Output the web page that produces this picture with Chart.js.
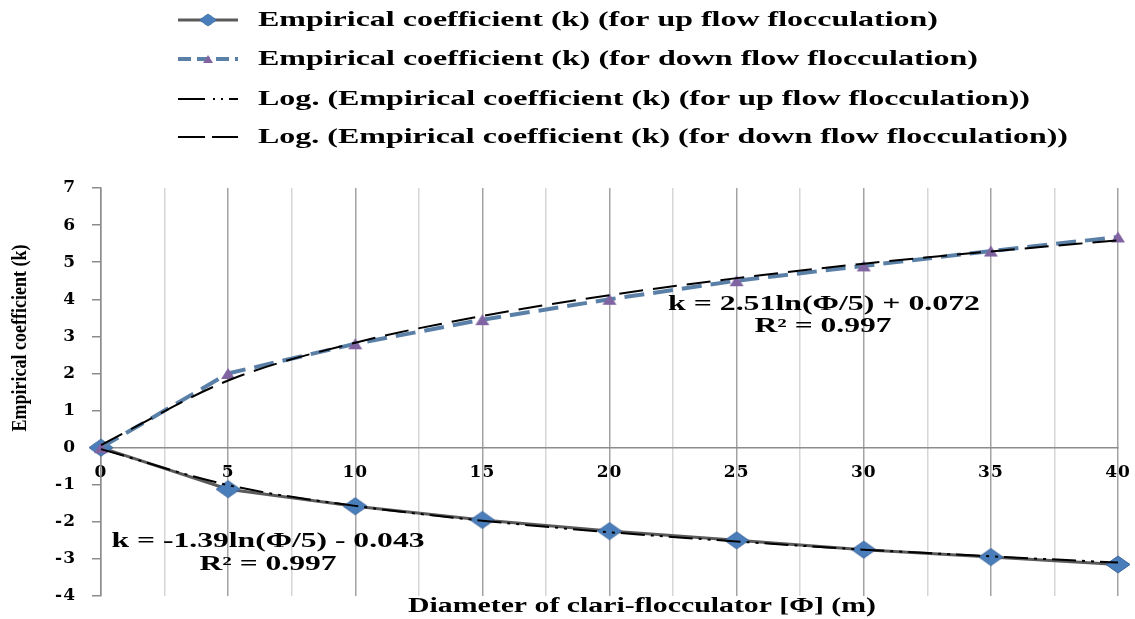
<!DOCTYPE html>
<html>
<head>
<meta charset="utf-8">
<script src="https://cdn.jsdelivr.net/npm/chart.js@4/dist/chart.umd.min.js"></script>
<style>
  html, body { margin: 0; padding: 0; background: #fff; }
  #wrap { width: 1135px; height: 619px; position: relative; }
</style>
</head>
<body>
<div id="wrap"><canvas id="kChart"></canvas></div>
<script>
// diameter of clari-flocculator (m)
const diameters = [0, 5, 10, 15, 20, 25, 30, 35, 40];
// empirical coefficient k
const upFlow = [0, -1.12, -1.58, -1.95, -2.25, -2.50, -2.75, -2.95, -3.15];
const downFlow = [0, 2.0, 2.8, 3.45, 4.0, 4.5, 4.9, 5.3, 5.68];
// log trendlines as drawn in the figure, read at the same diameters
const upTrend = [-0.04, -1.01, -1.57, -1.97, -2.28, -2.53, -2.75, -2.93, -3.10];
const downTrend = [0.07, 1.81, 2.83, 3.55, 4.11, 4.57, 4.96, 5.29, 5.59];

const seriesLabels = [
  "Empirical coefficient (k) (for up flow flocculation)",
  "Empirical coefficient (k) (for down flow flocculation)",
  "Log. (Empirical coefficient (k) (for up flow flocculation))",
  "Log. (Empirical coefficient (k) (for down flow flocculation))"
];
const upEquation = ["k = -1.39ln(\u03A6/5) - 0.043", "R\u00B2 = 0.997"];
const downEquation = ["k = 2.51ln(\u03A6/5) + 0.072", "R\u00B2 = 0.997"];
const xTitle = "Diameter of clari-flocculator [\u03A6] (m)";
const yTitle = "Empirical coefficient (k)";

function pts(ys) {
  return diameters.map((d, i) => ({ x: d, y: ys[i] }));
}

function makeDiamond(w, h) {
  const c = document.createElement("canvas");
  c.width = w + 2; c.height = h + 2;
  const g = c.getContext("2d");
  g.beginPath();
  g.moveTo(c.width / 2, 1);
  g.lineTo(w + 1, c.height / 2);
  g.lineTo(c.width / 2, h + 1);
  g.lineTo(1, c.height / 2);
  g.closePath();
  g.fillStyle = "#4a7ebb";
  g.fill();
  g.strokeStyle = "#3a659b";
  g.lineWidth = 1;
  g.stroke();
  return c;
}

function makeTriangle(w, h) {
  const c = document.createElement("canvas");
  c.width = w + 2; c.height = h + 2;
  const g = c.getContext("2d");
  g.beginPath();
  g.moveTo(c.width / 2, 1);
  g.lineTo(w + 1, h + 1);
  g.lineTo(1, h + 1);
  g.closePath();
  g.fillStyle = "#8064a2";
  g.fill();
  return c;
}

const diamondMark = makeDiamond(24, 17);
const triangleMark = makeTriangle(14, 11);

// text squeezed/stretched to the width it has in the figure
function fitText(ctx, text, x, y, width, align) {
  const w = ctx.measureText(text).width;
  ctx.save();
  ctx.translate(x, y);
  ctx.scale(width / w, 1);
  ctx.textAlign = align;
  ctx.textBaseline = "middle";
  ctx.fillText(text, 0, 0);
  ctx.restore();
}

const extras = {
  id: "extras",
  beforeDraw(chart) {
    chart.ctx.letterSpacing = "1px";
  },
  afterDraw(chart) {
    const ctx = chart.ctx;
    ctx.letterSpacing = "0px";
    ctx.fillStyle = "#000";

    // legend
    const rowsY = [20, 59, 99, 137];
    const rowsEnd = [938, 978, 1030, 1068];
    chart.data.datasets.forEach((ds, i) => {
      const y = rowsY[i];
      ctx.save();
      ctx.strokeStyle = ds.borderColor;
      ctx.lineWidth = ds.borderWidth;
      ctx.setLineDash(ds.legendDash || ds.borderDash || []);
      ctx.beginPath();
      ctx.moveTo(178, y);
      ctx.lineTo(238, y);
      ctx.stroke();
      ctx.restore();
      if (ds.pointRadius !== 0) {
        const m = ds.pointStyle;
        const mw = m.width * 0.72, mh = m.height * 0.72;
        ctx.drawImage(m, 208 - mw / 2, y - mh / 2, mw, mh);
      }
      ctx.font = "bold 21px 'Liberation Serif'";
      ctx.fillStyle = "#000";
      fitText(ctx, ds.label, 258, y + 1, rowsEnd[i] - 258, "left");
    });

    // trendline equations
    ctx.font = "bold 20px 'Liberation Serif'";
    fitText(ctx, downEquation[0], 824, 305, 312, "center");
    fitText(ctx, downEquation[1], 823, 327, 137, "center");
    fitText(ctx, upEquation[0], 268, 542, 313, "center");
    fitText(ctx, upEquation[1], 268, 565, 137, "center");

    // axis titles
    ctx.font = "bold 20px 'Liberation Serif'";
    fitText(ctx, xTitle, 642, 607, 468, "center");
    ctx.save();
    ctx.translate(20, 338);
    ctx.rotate(-Math.PI / 2);
    ctx.font = "bold 22px 'Liberation Serif'";
    fitText(ctx, yTitle, 0, 0, 187, "center");
    ctx.restore();
  }
};

const ctx = document.getElementById("kChart");

const kChart = new Chart(ctx, {
  type: "line",
  data: {
    datasets: [
      {
        label: seriesLabels[0],
        data: pts(upFlow),
        borderColor: "#5a5a5a",
        borderWidth: 3,
        pointStyle: diamondMark,
        tension: 0,
        clip: false,
        order: 2
      },
      {
        label: seriesLabels[1],
        data: pts(downFlow),
        borderColor: "#5b80a8",
        borderWidth: 4,
        borderDash: [20, 9],
        legendDash: [13, 6],
        pointStyle: triangleMark,
        tension: 0,
        clip: false,
        order: 1
      },
      {
        label: seriesLabels[2],
        data: pts(upTrend),
        borderColor: "#000",
        borderWidth: 2,
        borderDash: [24, 6, 3, 6, 3, 6],
        legendDash: [27, 8, 2, 6, 2, 6],
        pointRadius: 0,
        cubicInterpolationMode: "monotone",
        clip: false,
        order: 0
      },
      {
        label: seriesLabels[3],
        data: pts(downTrend),
        borderColor: "#000",
        borderWidth: 2,
        borderDash: [24, 10],
        legendDash: [27, 7],
        pointRadius: 0,
        cubicInterpolationMode: "monotone",
        clip: false,
        order: 0
      }
    ]
  },
  options: {
    responsive: true,
    maintainAspectRatio: false,
    animation: false,
    layout: {
      padding: { top: 188, right: 17, bottom: 23, left: 0 }
    },
    plugins: {
      legend: { display: false },
      tooltip: { enabled: false }
    },
    scales: {
      x: {
        type: "linear",
        position: { y: 0 },
        min: 0,
        max: 40,
        afterFit: (scale) => {
          scale.height = 0;
          scale.paddingLeft = 0;
          scale.paddingRight = 0;
        },
        ticks: {
          stepSize: 2.5,
          autoSkip: false,
          maxRotation: 0,
          padding: 15,
          color: "#000",
          font: { family: "DejaVu Serif", weight: "bold", size: 17 },
          callback: (v) => (v % 5 === 0 ? v : "")
        },
        grid: {
          drawTicks: false,
          lineWidth: 1.5,
          color: (c) => (c.tick && c.tick.value % 5 === 0 ? "#a3a3a3" : "#d6d6d6")
        },
        border: { color: "#8c8c8c", width: 1.5 }
      },
      y: {
        min: -4,
        max: 7,
        afterFit: (scale) => {
          scale.width = 101;
          scale.paddingTop = 0;
          scale.paddingBottom = 0;
        },
        ticks: {
          stepSize: 1,
          padding: 16,
          color: "#000",
          font: { family: "DejaVu Serif", weight: "bold", size: 17 }
        },
        grid: {
          drawOnChartArea: false,
          tickLength: 9,
          lineWidth: 1.5,
          color: "#8c8c8c"
        },
        border: { color: "#8c8c8c", width: 1.5 }
      }
    }
  },
  plugins: [extras]
});
</script>
</body>
</html>
